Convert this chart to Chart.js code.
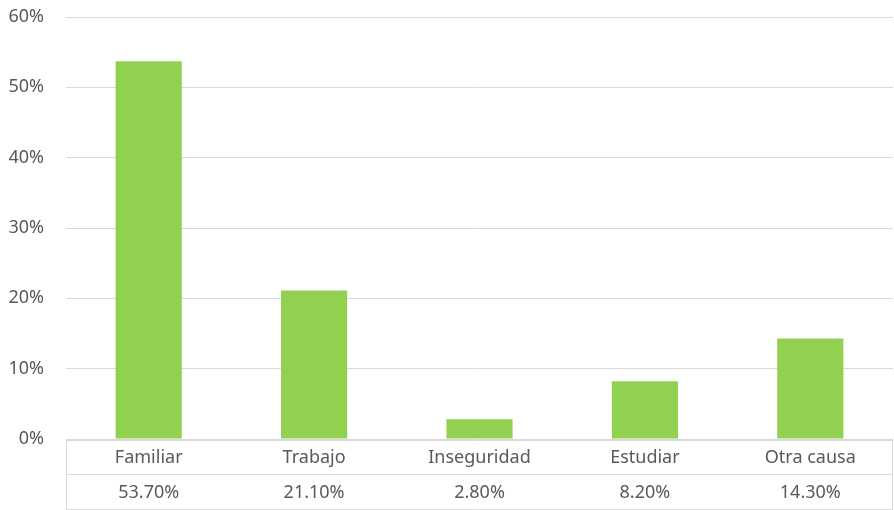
<!DOCTYPE html>
<html><head><meta charset="utf-8">
<script src="https://cdn.jsdelivr.net/npm/chart.js@4"></script>
<style>html,body{margin:0;padding:0;background:#fff}#wrap{width:894px;height:510px;position:relative}</style>
</head><body><div id="wrap"><canvas id="c" width="894" height="510"></canvas></div>
<script>
const categories = ["Familiar", "Trabajo", "Inseguridad", "Estudiar", "Otra causa"];
const values = [53.7, 21.1, 2.8, 8.2, 14.3];
const valueLabels = ["53.70%", "21.10%", "2.80%", "8.20%", "14.30%"];
const yTicks = [0, 10, 20, 30, 40, 50, 60];

const FONT = '"Noto Sans", "Open Sans", sans-serif';
const TEXT = '#595959';

const tablePlugin = {
  id: 'dataTable',
  afterDraw(chart) {
    const ctx = chart.ctx;
    const x = chart.scales.x;
    const a = chart.chartArea;
    const left = a.left, right = a.right;
    const top = a.bottom + 1, mid = top + 34, bot = top + 69;
    ctx.save();
    ctx.strokeStyle = '#d9d9d9';
    ctx.lineWidth = 1;
    ctx.beginPath();
    [top, mid, bot].forEach(y => { ctx.moveTo(left, y + 0.5); ctx.lineTo(right, y + 0.5); });
    ctx.moveTo(left + 0.5, top); ctx.lineTo(left + 0.5, bot + 1);
    ctx.moveTo(right - 0.5, top); ctx.lineTo(right - 0.5, bot + 1);
    ctx.stroke();
    ctx.fillStyle = TEXT;
    ctx.font = '18px ' + FONT;
    ctx.textAlign = 'center';
    ctx.textBaseline = 'middle';
    categories.forEach((c, i) => {
      const px = x.getPixelForValue(i);
      ctx.fillText(c, px, (top + mid) / 2 + 1);
      ctx.fillText(valueLabels[i], px, (mid + bot) / 2 + 1);
    });
    ctx.restore();
  }
};

new Chart(document.getElementById('c'), {
  type: 'bar',
  data: {
    labels: categories,
    datasets: [{ data: values, backgroundColor: '#92D050', barPercentage: 0.4, categoryPercentage: 1 }]
  },
  options: {
    responsive: false,
    animation: false,
    layout: { padding: { top: 17, bottom: 71, left: 0, right: 1 } },
    plugins: { legend: { display: false }, tooltip: { enabled: false } },
    scales: {
      x: { display: false },
      y: {
        min: 0, max: 60,
        afterFit(s) { s.width = 66; s.paddingTop = 0; s.paddingBottom = 0; },
        afterBuildTicks(s) { s.ticks = yTicks.map(v => ({ value: v })); },
        border: { display: false },
        grid: { color: '#d9d9d9', drawTicks: false, lineWidth: 1 },
        ticks: { padding: 22, color: TEXT, font: { family: FONT, size: 18 }, callback: v => v + '%' }
      }
    }
  },
  plugins: [tablePlugin]
});
</script></body></html>
